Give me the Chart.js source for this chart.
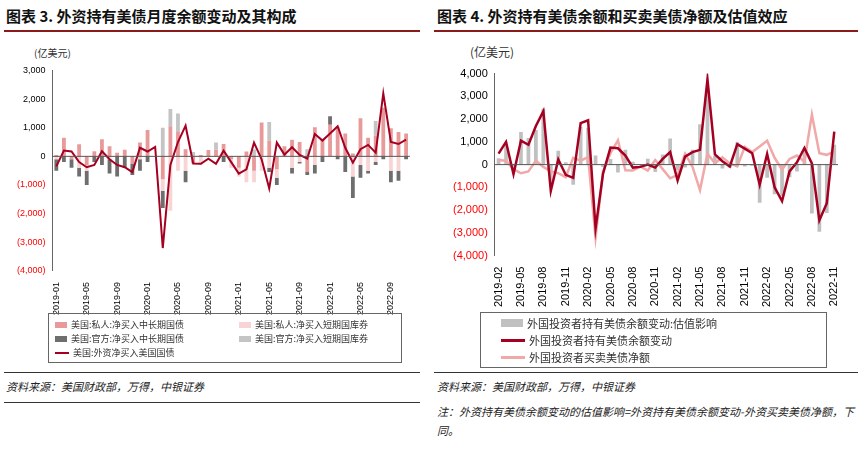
<!DOCTYPE html>
<html><head><meta charset="utf-8">
<script src="https://cdn.jsdelivr.net/npm/chart.js@4"></script>
<style>
body{margin:0;width:862px;height:454px;background:#fff;font-family:"Noto Sans CJK SC",sans-serif;position:relative;overflow:hidden}
.abs{position:absolute}
.title{font-weight:bold;font-size:15px;color:#111;top:5px}
.rule{height:2px;background:#8b1a1a}
.thin{height:1px;background:#333}
.src{font-size:11px;font-style:italic;color:#222}
.unit{font-size:10px;color:#333}
.leg{border:1px solid #666;font-size:9px;color:#333}
.li{position:absolute;white-space:nowrap;display:flex;align-items:center}
.sw{display:inline-block;margin-right:4px}
</style></head><body>
<div class="abs title" style="left:6px">图表 3. 外资持有美债月度余额变动及其构成</div>
<div class="abs title" style="left:437px">图表 4. 外资持有美债余额和买卖美债净额及估值效应</div>
<div class="abs rule" style="left:4px;top:30px;width:416px"></div>
<div class="abs rule" style="left:434px;top:30px;width:424px"></div>
<div class="abs unit" style="left:34px;top:45px">(亿美元)</div>
<div class="abs unit" style="left:470px;top:43px;font-size:12px">(亿美元)</div>
<div class="abs" style="left:0;top:62px;width:420px;height:256px"><canvas id="c1"></canvas></div>
<div class="abs" style="left:430px;top:64px;width:430px;height:246px"><canvas id="c2"></canvas></div>
<div class="abs leg" style="left:48px;top:313px;width:352px;height:48px">
 <div class="li" style="left:6px;top:4px"><span class="sw" style="width:12px;height:6px;background:#e89a9a"></span>美国:私人:净买入中长期国债</div>
 <div class="li" style="left:190px;top:4px"><span class="sw" style="width:12px;height:6px;background:#f8d4d4"></span>美国:私人:净买入短期国库券</div>
 <div class="li" style="left:6px;top:18px"><span class="sw" style="width:12px;height:6px;background:#6e6e6e"></span>美国:官方:净买入中长期国债</div>
 <div class="li" style="left:190px;top:18px"><span class="sw" style="width:12px;height:6px;background:#c4c4c4"></span>美国:官方:净买入短期国库券</div>
 <div class="li" style="left:6px;top:32px"><span class="sw" style="width:14px;height:2px;background:#a50021"></span>美国:外资净买入美国国债</div>
</div>
<div class="abs leg" style="left:480px;top:312px;width:345px;height:54px;font-size:11px">
 <div class="li" style="left:20px;top:2px"><span class="sw" style="width:22px;height:8px;background:#c0c0c0"></span>外国投资者持有美债余额变动:估值影响</div>
 <div class="li" style="left:20px;top:19px"><span class="sw" style="width:24px;height:3px;background:#a50021"></span>外国投资者持有美债余额变动</div>
 <div class="li" style="left:20px;top:36px"><span class="sw" style="width:24px;height:3px;background:#f0a8a8"></span>外国投资者买卖美债净额</div>
</div>
<div class="abs thin" style="left:4px;top:372px;width:416px"></div>
<div class="abs thin" style="left:434px;top:372px;width:424px"></div>
<div class="abs src" style="left:6px;top:378px">资料来源：美国财政部，万得，中银证券</div>
<div class="abs src" style="left:437px;top:378px">资料来源：美国财政部，万得，中银证券</div>
<div class="abs src" style="left:437px;top:402px;width:420px;line-height:19px">注：外资持有美债余额变动的估值影响=外资持有美债余额变动-外资买卖美债净额，下同。</div>
<div class="abs thin" style="left:4px;top:402px;width:416px"></div>
<script>
const months1=[];for(let y=2019;y<=2022;y++)for(let m=1;m<=12;m++){if(y===2022&&m>11)break;months1.push(y+'-'+String(m).padStart(2,'0'));}
const months2=months1.slice(1);
const privLong=[50,650,-100,420,-300,180,600,350,130,230,-250,480,920,0,-800,1050,850,250,-250,50,220,230,430,-100,-400,170,-500,1180,550,-450,350,580,500,-550,1020,600,1100,1020,800,100,1330,650,730,1700,980,850,800];
const privShort=[-100,0,0,-400,-200,0,0,-100,0,0,0,-100,0,0,-400,-1900,-500,-500,0,-300,0,0,0,-300,-300,-900,-400,-500,-400,-300,0,-400,-200,0,-300,0,0,0,0,-700,-300,-500,-200,0,-500,-500,0];
const offLong=[-400,-200,-300,-300,-500,-200,-300,-500,-700,-400,-400,-400,-200,0,-600,0,0,-400,0,0,0,0,-200,0,0,0,0,0,-150,-250,0,-200,-50,-100,-300,-200,300,-100,-550,-750,-450,-100,-100,-100,-400,-350,-100];
const offShort=[0,0,0,0,0,0,0,0,0,0,0,0,0,0,1000,600,650,0,150,0,0,250,0,0,0,0,250,0,650,0,0,0,0,250,0,0,0,0,0,0,0,0,500,0,0,0,0];
const netBuy=[-350,200,170,-200,-380,-300,180,-100,-300,-380,-550,300,170,330,-3200,-300,500,1070,-250,-260,-80,-260,200,-200,-600,-450,480,-100,-1120,480,60,320,50,-80,780,550,800,1050,300,-220,250,400,130,2200,500,430,580];
const holdChange=[480,1000,-420,1050,870,1700,2350,-1150,230,-450,-580,1820,1950,-2800,-400,750,720,400,-130,-100,0,-130,250,550,-700,350,550,650,3750,450,150,-80,900,700,500,-880,470,-1000,-1600,-300,100,730,50,-2450,-1700,1450];
const valuation=[280,830,-220,1430,1170,1520,2450,-850,610,100,-880,1650,1620,400,-100,250,-350,650,130,-20,260,-330,450,1150,-250,-130,650,1770,3270,390,-170,-130,980,-80,-50,-1680,-580,-1300,-1380,-550,-300,600,-2150,-2950,-2130,870];
const purchases2=[200,170,-200,-380,-300,180,-100,-300,-380,-550,300,170,330,-3200,-300,500,1070,-250,-260,-80,-260,200,-200,-600,-450,480,-100,-1120,480,60,320,50,-80,780,550,800,1050,300,-220,250,400,130,2200,500,430,580];
const fmt=v=>v<0?'('+Math.abs(v).toLocaleString('en-US')+')':v.toLocaleString('en-US');
function yAx(min,max,step,fs){return{min,max,ticks:{stepSize:step,callback:fmt,color:c=>c.tick.value<0?'#ff0000':'#000',font:{family:'Arial',size:fs}},grid:{display:false,drawTicks:true,tickLength:4},border:{color:'#666'}};}
function xAx(every,fs){return{grid:{display:false},border:{display:false},ticks:{autoSkip:false,maxRotation:90,minRotation:90,font:{family:'Arial',size:fs},color:'#000',callback:function(v,i){return i%every===0?this.getLabelForValue(v):'';}}};}
const zero={id:'zero',afterDatasetsDraw(ch){const y=ch.scales.y.getPixelForValue(0),c=ch.ctx;c.save();c.strokeStyle='#555';c.lineWidth=1;c.beginPath();c.moveTo(ch.chartArea.left,y);c.lineTo(ch.chartArea.right,y);c.stroke();c.restore();}};
const bar=(d,col)=>({type:'bar',data:d,backgroundColor:col,stack:'s',barPercentage:0.5,categoryPercentage:1,order:2});
new Chart(document.getElementById('c1'),{data:{labels:months1,datasets:[
 {type:'line',data:netBuy,borderColor:'#a50021',borderWidth:2,pointRadius:0,order:1,tension:0},
 bar(privLong,'#e89a9a'),bar(privShort,'#f8d4d4'),bar(offLong,'#6e6e6e'),bar(offShort,'#c4c4c4')]},
 options:{responsive:true,maintainAspectRatio:false,animation:false,plugins:{legend:{display:false},tooltip:{enabled:false}},
 layout:{padding:{left:14,right:10,top:4}},scales:{x:xAx(4,9),y:yAx(-4000,3000,1000,9)}},plugins:[zero]});
new Chart(document.getElementById('c2'),{data:{labels:months2,datasets:[
 {type:'line',data:holdChange,borderColor:'#a50021',borderWidth:2.5,pointRadius:0,order:1,tension:0},
 {type:'line',data:purchases2,borderColor:'#f0a8a8',borderWidth:2.5,pointRadius:0,order:1,tension:0},
 {type:'bar',data:valuation,backgroundColor:'#c0c0c0',barPercentage:0.5,categoryPercentage:1,order:3}]},
 options:{responsive:true,maintainAspectRatio:false,animation:false,plugins:{legend:{display:false},tooltip:{enabled:false}},
 layout:{padding:{left:20,right:22,top:4}},scales:{x:xAx(3,11),y:yAx(-4000,4000,1000,11)}},plugins:[zero]});
</script></body></html>
